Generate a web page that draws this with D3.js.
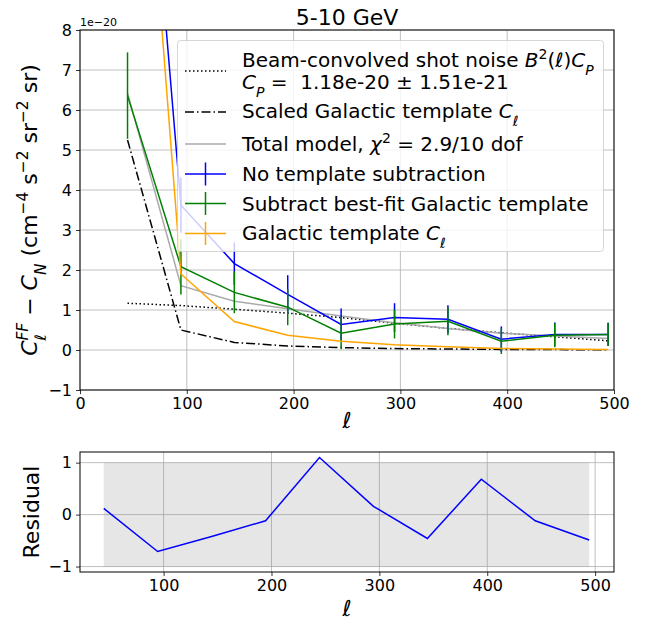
<!DOCTYPE html>
<html>
<head>
<meta charset="utf-8">
<script src="https://cdn.jsdelivr.net/npm/d3@7"></script>
<style>
body { margin: 0; background: #fff; }
text { font-family: "DejaVu Sans", sans-serif; fill: #000; white-space: pre; }
</style>
</head>
<body>
<svg id="chart" width="663" height="621"></svg>
<script>
const ell = [44.5, 94.5, 144.5, 194.5, 244.5, 294.5, 344.5, 394.5, 444.5, 494.5];
// values in units of 1e-20
const no_sub = [19.6, 3.62, 2.16, 1.39, 0.64, 0.81, 0.77, 0.27, 0.39, 0.39];
const no_sub_err = [1.1, 0.69, 0.53, 0.48, 0.4, 0.36, 0.35, 0.32, 0.3, 0.29];
const sub_template = [6.36, 2.08, 1.44, 1.07, 0.42, 0.65, 0.72, 0.22, 0.37, 0.39];
const sub_template_err = [1.08, 0.69, 0.52, 0.45, 0.4, 0.36, 0.35, 0.32, 0.3, 0.29];
const gal_template = [19.1, 1.9, 0.71, 0.37, 0.22, 0.13, 0.08, 0.04, 0.025, 0.01];
const gal_template_err = [0.02, 0.01, 0.01, 0.005, 0.005, 0.003, 0.002, 0.001, 0.001, 0.001];
const scaled_template = [5.25, 0.5, 0.19, 0.1, 0.06, 0.035, 0.025, 0.015, 0.01, 0.005];
const shot_noise = [1.17, 1.11, 1.02, 0.92, 0.81, 0.67, 0.54, 0.43, 0.33, 0.23];
const total_model = [6.42, 1.61, 1.22, 1.03, 0.85, 0.68, 0.54, 0.42, 0.35, 0.29];
const residual = [0.12, -0.71, -0.42, -0.12, 1.1, 0.16, -0.46, 0.68, -0.12, -0.49];
const main_yticks = [-1, 0, 1, 2, 3, 4, 5, 6, 7, 8];
const main_xticks = [0, 100, 200, 300, 400, 500];
const res_xticks = [100, 200, 300, 400, 500];
const res_yticks = [-1, 0, 1];

const svg = d3.select("#chart");
const fmt = (d) => d < 0 ? "\u2212" + Math.abs(d) : String(d);

const main = {left: 80, right: 614, top: 30, bottom: 390};
const res = {left: 80, right: 614, top: 452, bottom: 572};

let x = d3.scaleLinear().domain([0, 500]).range([main.left, main.right]);
let y = d3.scaleLinear().domain([-1, 8]).range([main.bottom, main.top]);
let xr = d3.scaleLinear().domain([22.5, 517.5]).range([res.left, res.right]);
let yr = d3.scaleLinear().domain([-1.105, 1.205]).range([res.bottom, res.top]);

svg.append("clipPath").attr("id", "clip_main")
	.append("rect")
	.attr("x", main.left).attr("y", main.top)
	.attr("width", main.right - main.left).attr("height", main.bottom - main.top);

function draw_axes(box, xs, ys, xticks, yticks) {
	let g = svg.append("g");
	g.append("g")
		.attr("transform", `translate(0,${box.bottom})`)
		.call(d3.axisBottom(xs).tickValues(xticks).tickFormat(fmt).tickSize(4).tickPadding(4))
		.call((a) => a.select(".domain").remove());
	g.append("g")
		.attr("transform", `translate(${box.left},0)`)
		.call(d3.axisLeft(ys).tickValues(yticks).tickFormat(fmt).tickSize(4).tickPadding(4))
		.call((a) => a.select(".domain").remove());
	g.selectAll(".tick text").attr("font-size", 16).attr("font-family", "DejaVu Sans");
	g.selectAll(".tick line").attr("stroke", "#000").attr("stroke-width", 0.8);
	g.append("rect")
		.attr("x", box.left).attr("y", box.top)
		.attr("width", box.right - box.left).attr("height", box.bottom - box.top)
		.attr("fill", "none").attr("stroke", "#000").attr("stroke-width", 1);
}

function draw_grid(box, xs, ys, xticks, yticks) {
	let g = svg.append("g").attr("stroke", "#b0b0b0").attr("stroke-width", 0.8);
	g.selectAll(".gx").data(xticks).enter().append("line")
		.attr("x1", (d) => xs(d)).attr("x2", (d) => xs(d))
		.attr("y1", box.top).attr("y2", box.bottom);
	g.selectAll(".gy").data(yticks).enter().append("line")
		.attr("x1", box.left).attr("x2", box.right)
		.attr("y1", (d) => ys(d)).attr("y2", (d) => ys(d));
}

draw_grid(main, x, y, main_xticks, main_yticks);

let plot = svg.append("g").attr("clip-path", "url(#clip_main)");
let line_of = (vals) => d3.line().x((d, i) => x(ell[i])).y((d) => y(d))(vals);

plot.append("path").attr("d", line_of(shot_noise))
	.attr("fill", "none").attr("stroke", "#000").attr("stroke-width", 1.5).attr("stroke-dasharray", "1.5,2.5");
plot.append("path").attr("d", line_of(scaled_template))
	.attr("fill", "none").attr("stroke", "#000").attr("stroke-width", 1.5).attr("stroke-dasharray", "9,3,1.5,3");
plot.append("path").attr("d", line_of(total_model))
	.attr("fill", "none").attr("stroke", "#aaaaaa").attr("stroke-width", 1.5);

function draw_errorbar(vals, errs, color) {
	plot.append("path").attr("d", line_of(vals))
		.attr("fill", "none").attr("stroke", color).attr("stroke-width", 1.5);
	plot.selectAll(null).data(vals).enter().append("line")
		.attr("x1", (d, i) => x(ell[i])).attr("x2", (d, i) => x(ell[i]))
		.attr("y1", (d, i) => y(d - errs[i])).attr("y2", (d, i) => y(d + errs[i]))
		.attr("stroke", color).attr("stroke-width", 1.5);
}
draw_errorbar(no_sub, no_sub_err, "blue");
draw_errorbar(sub_template, sub_template_err, "green");
draw_errorbar(gal_template, gal_template_err, "orange");

draw_axes(main, x, y, main_xticks, main_yticks);

// legend
let legend = svg.append("g");
legend.append("rect")
	.attr("x", 177.5).attr("y", 40.5).attr("width", 426).attr("height", 211).attr("rx", 3)
	.attr("fill", "#fff").attr("fill-opacity", 0.8)
	.attr("stroke", "#cccccc").attr("stroke-opacity", 0.8).attr("stroke-width", 1);

const leg_x0 = 185, leg_x1 = 226, leg_tx = 242;
const leg_rows = [
	{y: 71, kind: "dotted", color: "#000"},
	{y: 112, kind: "dashdot", color: "#000"},
	{y: 144, kind: "solid", color: "#aaaaaa"},
	{y: 174, kind: "err", color: "blue"},
	{y: 203.5, kind: "err", color: "green"},
	{y: 233.5, kind: "err", color: "orange"}
];
leg_rows.forEach((r) => {
	let l = legend.append("line")
		.attr("x1", leg_x0).attr("x2", leg_x1).attr("y1", r.y).attr("y2", r.y)
		.attr("stroke", r.color).attr("stroke-width", 1.5);
	if (r.kind == "dotted") l.attr("stroke-dasharray", "1.5,2.5");
	if (r.kind == "dashdot") l.attr("stroke-dasharray", "9,3,1.5,3");
	if (r.kind == "err") {
		legend.append("line")
			.attr("x1", (leg_x0 + leg_x1) / 2).attr("x2", (leg_x0 + leg_x1) / 2)
			.attr("y1", r.y - 11.5).attr("y2", r.y + 11.5)
			.attr("stroke", r.color).attr("stroke-width", 1.5);
	}
});

function rich_text(parent, px, py, parts, size) {
	let t = parent.append("text").attr("x", px).attr("y", py).attr("font-size", size);
	parts.forEach((p) => {
		let s = t.append("tspan").text(p.t);
		if (p.i) s.attr("font-style", "italic");
		if (p.sup) s.attr("baseline-shift", "super").attr("font-size", size * 0.7);
		if (p.sub) s.attr("baseline-shift", "sub").attr("font-size", size * 0.7);
		if (p.dx) s.attr("dx", p.dx);
	});
	return t;
}
const fs = 20;
rich_text(legend, leg_tx, 67, [{t: "Beam-convolved shot noise "}, {t: "B", i: 1}, {t: "2", sup: 1},
	{t: "("}, {t: "\u2113", i: 1}, {t: ")"}, {t: "C", i: 1}, {t: "P", i: 1, sub: 1}], fs);
rich_text(legend, leg_tx, 89, [{t: "C", i: 1}, {t: "P", i: 1, sub: 1}, {t: " =  1.18e-20 \u00b1 1.51e-21"}], fs);
rich_text(legend, leg_tx, 118, [{t: "Scaled Galactic template "}, {t: "C", i: 1}, {t: "\u2113", i: 1, sub: 1}], fs);
rich_text(legend, leg_tx, 150.5, [{t: "Total model, "}, {t: "\u03c7", i: 1}, {t: "2", sup: 1}, {t: " = 2.9/10 dof"}], fs);
rich_text(legend, leg_tx, 181, [{t: "No template subtraction"}], fs);
rich_text(legend, leg_tx, 210.5, [{t: "Subtract best-fit Galactic template"}], fs);
rich_text(legend, leg_tx, 240, [{t: "Galactic template "}, {t: "C", i: 1}, {t: "\u2113", i: 1, sub: 1}], fs);

// titles and labels
svg.append("text").attr("x", (main.left + main.right) / 2).attr("y", 25)
	.attr("text-anchor", "middle").attr("font-size", 22).text("5-10 GeV");
svg.append("text").attr("x", 80).attr("y", 26).attr("font-size", 11).text("1e\u221220");
svg.append("text").attr("x", (main.left + main.right) / 2).attr("y", 428)
	.attr("text-anchor", "middle").attr("font-size", 22).attr("font-style", "italic").text("\u2113");

let ylab = rich_text(svg, 0, 0, [{t: "C", i: 1}, {t: "\u2113", i: 1, sub: 1}, {t: "FF", i: 1, sup: 1, dx: -6.5},
	{t: " \u2212 "}, {t: "C", i: 1}, {t: "N", i: 1, sub: 1}, {t: " (cm"}, {t: "\u22124", sup: 1},
	{t: " s"}, {t: "\u22122", sup: 1}, {t: " sr"}, {t: "\u22122", sup: 1}, {t: " sr)"}], 22);
ylab.attr("text-anchor", "middle")
	.attr("transform", `translate(37,${(main.top + main.bottom) / 2}) rotate(-90)`);

// residual panel
draw_grid(res, xr, yr, res_xticks, res_yticks);
svg.append("rect")
	.attr("x", xr(ell[0])).attr("y", yr(1))
	.attr("width", xr(ell[ell.length - 1]) - xr(ell[0])).attr("height", yr(-1) - yr(1))
	.attr("fill", "gray").attr("fill-opacity", 0.2);
svg.append("path")
	.attr("d", d3.line().x((d, i) => xr(ell[i])).y((d) => yr(d))(residual))
	.attr("fill", "none").attr("stroke", "blue").attr("stroke-width", 1.5);
draw_axes(res, xr, yr, res_xticks, res_yticks);

svg.append("text").attr("x", (res.left + res.right) / 2).attr("y", 616)
	.attr("text-anchor", "middle").attr("font-size", 22).attr("font-style", "italic").text("\u2113");
svg.append("text").attr("text-anchor", "middle").attr("font-size", 22)
	.attr("transform", `translate(39,${(res.top + res.bottom) / 2}) rotate(-90)`).text("Residual");
</script>
</body>
</html>
